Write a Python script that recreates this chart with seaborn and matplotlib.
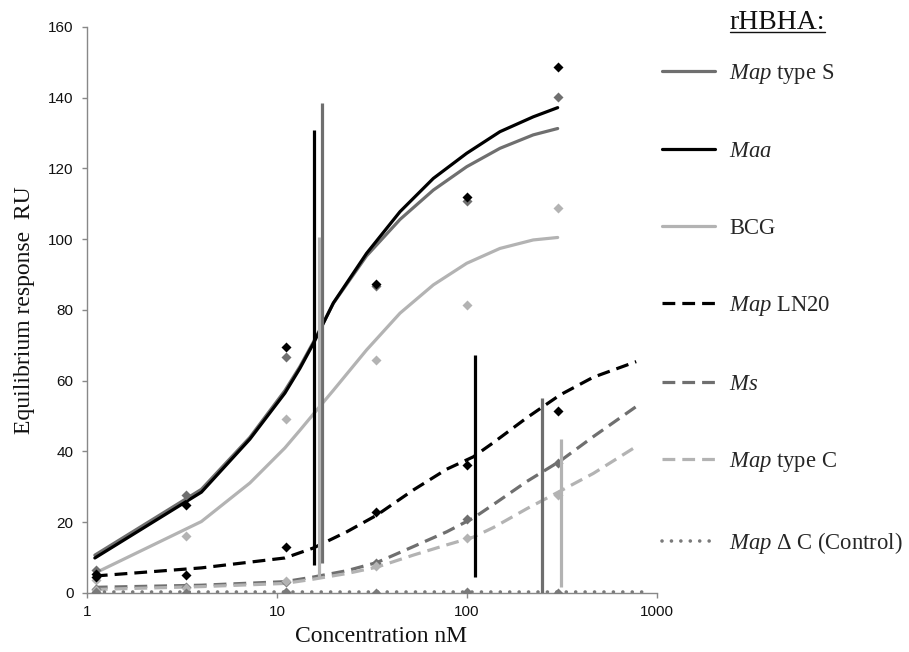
import numpy as np
import pandas as pd
import matplotlib
matplotlib.use("Agg")
import matplotlib.pyplot as plt
from matplotlib.lines import Line2D
import seaborn as sns

# ---------------- data ----------------
conc = [1.11, 3.33, 11.1, 33.3, 100, 300]

obs_map_s = [6.5, 27.7, 66.7, 86.8, 110.9, 140.3]
obs_maa = [5.3, 24.9, 69.6, 87.3, 112.0, 148.8]
obs_bcg = [3.7, 16.1, 49.2, 65.9, 81.4, 108.7]
obs_ln20 = [4.5, 5.1, 13.1, 23.0, 36.2, 51.5]
obs_ms = [1.2, 1.6, 3.0, 8.6, 21.0, 36.8]
obs_map_c = [0.9, 1.5, 3.4, 7.6, 15.5, 27.7]
obs_ctrl = [0.3, 0.1, 0.3, 0.0, 0.4, 0.0]

fit_x_hi = [1.1, 4.0, 7.2, 11.0, 13.2, 15.5, 19.8, 29.6, 44.4, 66.5, 99.6,
            149.0, 223.0, 300.0]
fit_maa = [9.9, 28.5, 43.5, 56.5, 63.5, 70.4, 82.0, 96.0, 107.8, 117.2, 124.3,
           130.4, 134.6, 137.2]
fit_map_s = [10.7, 29.3, 44.0, 57.2, 64.0, 70.8, 81.9, 95.3, 105.6, 113.9,
             120.5, 125.7, 129.5, 131.3]
fit_bcg = [5.6, 20.2, 31.1, 41.0, 46.0, 50.5, 57.3, 68.7, 79.1, 87.1, 93.2,
           97.4, 99.8, 100.5]

fit_x_lo = [1.1, 4.0, 11.0, 15.5, 23.3, 33.5, 52.1, 78.2, 108.0, 137.6,
            206.0, 309.0, 462.0, 777.0]
fit_ln20 = [4.8, 7.1, 9.9, 12.7, 17.3, 22.0, 29.1, 35.0, 38.5, 42.5, 49.5,
            56.0, 61.0, 65.4]
fit_ms = [1.6, 2.2, 3.2, 4.5, 6.3, 8.6, 13.1, 17.3, 21.2, 25.0, 31.5, 37.3,
          44.2, 52.7]
fit_map_c = [1.0, 1.8, 2.7, 3.9, 5.5, 7.3, 10.7, 13.6, 15.8, 18.5, 23.8, 28.8,
             33.8, 41.4]

fit_x_ctrl = [1.1, 890.0]
fit_ctrl = [0.2, 0.2]

# KD markers (vertical lines)
kd_x = [17.3, 15.6, 16.7, 110.0, 249.0, 314.0]
kd_low = [8.6, 7.9, 4.5, 4.5, 0.0, 1.8]
kd_high = [138.5, 131.0, 100.6, 67.3, 55.2, 43.5]

labels = [r"$\mathit{Map}$ type S", r"$\mathit{Maa}$", "BCG",
          r"$\mathit{Map}$ LN20", r"$\mathit{Ms}$", r"$\mathit{Map}$ type C",
          r"$\mathit{Map}$ Δ C (Control)"]

# ---------------- style ----------------
sns.set_theme(style="ticks")
plt.rcParams["font.family"] = ["Liberation Sans", "DejaVu Sans"]
plt.rcParams["mathtext.fontset"] = "custom"
plt.rcParams["mathtext.rm"] = "Liberation Serif"
plt.rcParams["mathtext.it"] = "Liberation Serif:italic"

c_black = "#000000"
c_dark = "#6f6f6f"
c_light = "#b3b3b3"
c_ctrl = "#7a7a7a"

fig = plt.figure(figsize=(9.09, 6.52), dpi=100)
ax = fig.add_axes([0.0957, 0.0905, 0.6271, 0.8681])

lw = 2.3
dash = (4.0, 2.2)

series = [
    (fit_x_hi, fit_map_s, obs_map_s, c_dark, "-"),
    (fit_x_hi, fit_maa, obs_maa, c_black, "-"),
    (fit_x_hi, fit_bcg, obs_bcg, c_light, "-"),
    (fit_x_lo, fit_ln20, obs_ln20, c_black, (0, dash)),
    (fit_x_lo, fit_ms, obs_ms, c_dark, (0, dash)),
    (fit_x_lo, fit_map_c, obs_map_c, c_light, (0, dash)),
    (fit_x_ctrl, fit_ctrl, obs_ctrl, c_ctrl, (0, (0.01, 2.6))),
]

handles = []
for i, (fx, fy, oy, col, ls) in enumerate(series):
    sns.scatterplot(x=conc, y=oy, ax=ax, marker="D", s=26, color=col,
                    edgecolor=col, linewidth=0, zorder=3)
for i, (fx, fy, oy, col, ls) in enumerate(series):
    if i == 6:
        sns.lineplot(x=fx, y=fy, ax=ax, color=col, linewidth=2.6,
                     linestyle=ls, dash_capstyle="round", zorder=2)
        handles.append(Line2D([0], [0], color=col, lw=2.6, linestyle=ls,
                              dash_capstyle="round"))
    else:
        sns.lineplot(x=fx, y=fy, ax=ax, color=col, linewidth=lw,
                     linestyle=ls, zorder=2)
        handles.append(Line2D([0], [0], color=col, lw=lw, linestyle=ls))

kd_cols = [c_dark, c_black, c_light, c_black, c_dark, c_light]
ax.vlines(kd_x, kd_low, kd_high, colors=kd_cols, linewidth=2.3, zorder=4)

ax.set_xscale("log")
ax.set_xlim(1, 1000)
ax.set_ylim(0, 160)
ax.set_xticks([1, 10, 100, 1000])
ax.set_xticklabels(["1", "10", "100", "1000"])
ax.xaxis.set_minor_locator(matplotlib.ticker.NullLocator())
ax.set_yticks(range(0, 161, 20))

for s in ["top", "right"]:
    ax.spines[s].set_visible(False)
for s in ["left", "bottom"]:
    ax.spines[s].set_color("#888888")
    ax.spines[s].set_linewidth(1.0)
ax.tick_params(axis="both", which="major", labelsize=11, length=3.6,
               width=1.0, color="#888888", pad=5, labelcolor="#111111")
ax.tick_params(axis="y", pad=6)

ax.set_xlabel("Concentration nM", fontfamily="Liberation Serif", fontsize=17,
              color="#111111")
ax.set_ylabel("Equilibrium response  RU", fontfamily="Liberation Serif",
              fontsize=17, color="#111111")
ax.xaxis.set_label_coords(0.516, -0.058)
ax.yaxis.set_label_coords(-0.092, 0.5)

leg = fig.legend(handles, labels, loc="upper left",
                 bbox_to_anchor=(0.728, 0.905), frameon=False,
                 prop={"family": "Liberation Serif", "size": 16.3},
                 handlelength=2.33, handletextpad=0.66, labelspacing=2.45,
                 borderpad=0, borderaxespad=0)

fig.text(0.8553, 0.9655, "rHBHA:", fontfamily="Liberation Serif", fontsize=20,
         ha="center", va="center", color="#111111")
fig.add_artist(Line2D([0.803, 0.9076], [0.951, 0.951], color="#111111",
                      lw=1.0, transform=fig.transFigure))

fig.savefig("out.png", dpi=100)
